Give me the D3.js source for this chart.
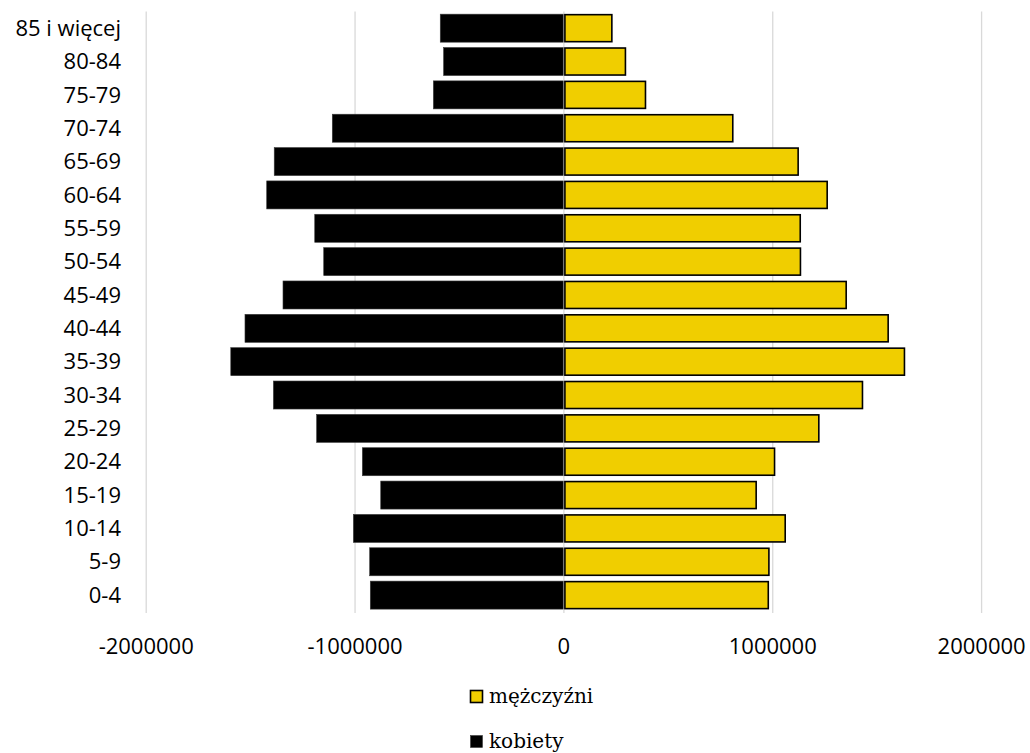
<!DOCTYPE html>
<html lang="pl">
<head>
<meta charset="UTF-8">
<title>Piramida wieku</title>
<script src="https://d3js.org/d3.v7.min.js"></script>
<style>
  body { margin: 0; background: #fff; }
  .cat { font-family: "Open Sans", sans-serif; font-size: 22px; fill: #000; }
  .tick-lbl { font-family: "Open Sans", sans-serif; font-size: 22px; fill: #000; }
  .legend { font-family: "DejaVu Serif", serif; font-size: 20px; fill: #000; }
</style>
</head>
<body>
<div id="chart"></div>
<script>
  // age groups, bottom to top
  const groups = ["0-4", "5-9", "10-14", "15-19", "20-24", "25-29", "30-34", "35-39", "40-44",
                  "45-49", "50-54", "55-59", "60-64", "65-69", "70-74", "75-79", "80-84", "85 i więcej"];
  const men = [981000, 984000, 1062000, 923000, 1011000, 1223000, 1432000, 1633000, 1555000,
               1354000, 1135000, 1134000, 1263000, 1124000, 811000, 393000, 297000, 232000];
  const women = [-927000, -930000, -1008000, -877000, -965000, -1184000, -1391000, -1595000, -1527000,
                 -1345000, -1150000, -1193000, -1423000, -1387000, -1109000, -625000, -576000, -592000];
  const ticks = [-2000000, -1000000, 0, 1000000, 2000000];
  const seriesNames = ["mężczyźni", "kobiety"];

  const width = 1030, height = 753;
  const svg = d3.select("#chart").append("svg")
      .attr("width", width)
      .attr("height", height);

  const x = d3.scaleLinear().domain([-2000000, 2000000]).range([146.2, 981.6]);
  const y = d3.scaleBand()
      .domain(groups.slice().reverse())
      .range([11.5, 611.8])
      .paddingInner(0.16)
      .paddingOuter(0.08);

  // grid
  svg.append("g")
    .selectAll("line")
    .data(ticks)
    .enter().append("line")
      .attr("x1", d => x(d)).attr("x2", d => x(d))
      .attr("y1", 11.5).attr("y2", 613)
      .attr("stroke", "#d9d9d9")
      .attr("stroke-width", 1.3);

  // kobiety
  svg.append("g")
    .selectAll("rect")
    .data(groups)
    .enter().append("rect")
      .attr("x", (d, i) => x(women[i]))
      .attr("y", d => y(d))
      .attr("width", (d, i) => x(0) - x(women[i]) - 0.7)
      .attr("height", y.bandwidth())
      .attr("fill", "#000")
      .attr("stroke", "#3a3a3a")
      .attr("stroke-width", 0.6);

  // mężczyźni
  svg.append("g")
    .selectAll("rect")
    .data(groups)
    .enter().append("rect")
      .attr("x", x(0) + 1)
      .attr("y", d => y(d) + 0.5)
      .attr("width", (d, i) => x(men[i]) - x(0) - 1.5)
      .attr("height", y.bandwidth() - 1)
      .attr("fill", "#f0ce00")
      .attr("stroke", "#000")
      .attr("stroke-width", 1.6);

  // category labels
  svg.append("g")
    .selectAll("text")
    .data(groups)
    .enter().append("text")
      .attr("class", "cat")
      .attr("x", 121)
      .attr("y", d => y(d) + y.bandwidth() / 2)
      .attr("dy", "0.35em")
      .attr("text-anchor", "end")
      .text(d => d);

  // x tick labels
  svg.append("g")
    .selectAll("text")
    .data(ticks)
    .enter().append("text")
      .attr("class", "tick-lbl")
      .attr("x", d => x(d))
      .attr("y", 646)
      .attr("dy", "0.35em")
      .attr("text-anchor", "middle")
      .text(d => String(d));

  // legend
  const legend = svg.append("g")
    .selectAll("g")
    .data(seriesNames)
    .enter().append("g")
      .attr("transform", (d, i) => `translate(470, ${690 + i * 45})`);

  legend.append("rect")
      .attr("x", 0.5).attr("y", 0.5)
      .attr("width", 12).attr("height", 12)
      .attr("fill", (d, i) => i === 0 ? "#f0ce00" : "#000")
      .attr("stroke", (d, i) => i === 0 ? "#000" : "#3a3a3a")
      .attr("stroke-width", (d, i) => i === 0 ? 1.6 : 0.6);

  legend.append("text")
      .attr("class", "legend")
      .attr("x", 19)
      .attr("y", 13)
      .text(d => d);
</script>
</body>
</html>
